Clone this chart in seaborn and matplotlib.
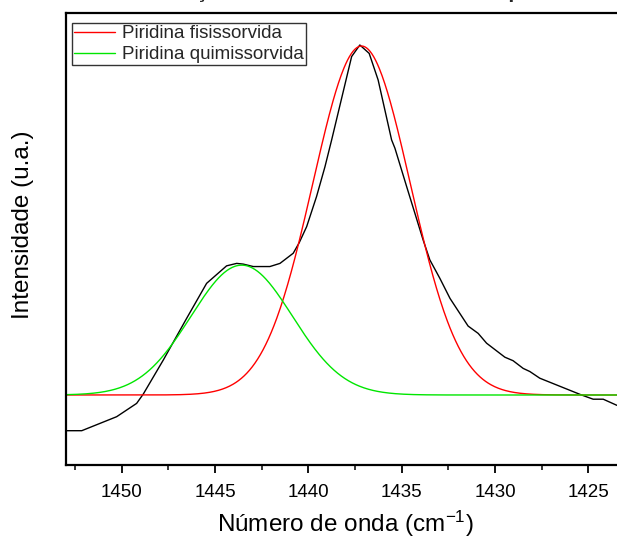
import numpy as np
import pandas as pd
import matplotlib
matplotlib.use("Agg")
import matplotlib.pyplot as plt
import seaborn as sns
from matplotlib.ticker import MultipleLocator

wavenumber = [1453.04, 1452.98, 1452.14, 1450.27, 1449.20, 1448.84, 1447.77, 1446.52,
              1445.45, 1444.38, 1443.84, 1443.49, 1442.95, 1442.06, 1441.52, 1440.81,
              1440.49, 1440.09, 1439.56, 1439.11, 1438.75, 1437.68, 1437.24, 1436.74,
              1436.26, 1435.54, 1435.36, 1434.73, 1433.85, 1433.49, 1432.95, 1432.41,
              1431.44, 1430.90, 1430.45, 1429.47, 1429.03, 1428.49, 1428.13, 1427.60,
              1425.36, 1424.74, 1424.20, 1423.49, 1422.90]
intensity = [-0.109, -0.102, -0.102, -0.062, -0.024, 0.003, 0.100, 0.219,
             0.319, 0.369, 0.376, 0.374, 0.367, 0.367, 0.376, 0.405,
             0.435, 0.481, 0.567, 0.652, 0.729, 0.967, 1.000, 0.976,
             0.900, 0.729, 0.705, 0.595, 0.443, 0.386, 0.333, 0.276,
             0.197, 0.176, 0.148, 0.108, 0.098, 0.076, 0.067, 0.048,
             0.000, -0.012, -0.012, -0.029, -0.040]

# Fitted Gaussian components
component_names = ["Piridina fisissorvida", "Piridina quimissorvida"]
component_centers = [1437.15, 1443.57]
component_heights = [0.997, 0.371]
component_sigmas = [2.61, 2.72]
component_colors = ["#ff0000", "#00e600"]

xgrid = np.linspace(1454, 1420, 700)
rows = []
for name, c, h, s in zip(component_names, component_centers, component_heights, component_sigmas):
    for xv in xgrid:
        rows.append({"x": xv, "y": h * np.exp(-(xv - c) ** 2 / (2 * s ** 2)), "comp": name})
comp_df = pd.DataFrame(rows)
exp_df = pd.DataFrame({"x": wavenumber, "y": intensity})

sns.set_theme(style="white")
plt.rcParams["font.family"] = ["Liberation Sans", "DejaVu Sans"]
plt.rcParams["mathtext.fontset"] = "custom"
plt.rcParams["mathtext.rm"] = "Liberation Sans"
plt.rcParams["mathtext.it"] = "Liberation Sans"

fig = plt.figure(figsize=(6.17, 5.39), dpi=100)
W, H = 617, 539
ax_left, ax_right, ax_top, ax_bot = 65.7, 640, 13, 465
ax = fig.add_axes([ax_left / W, (H - ax_bot) / H, (ax_right - ax_left) / W, (ax_bot - ax_top) / H])

sns.lineplot(data=exp_df, x="x", y="y", color="black", lw=1.0, ax=ax, sort=False,
             estimator=None, legend=False)
sns.lineplot(data=comp_df, x="x", y="y", hue="comp", hue_order=component_names,
             palette=component_colors, lw=1.0, ax=ax, sort=False, estimator=None)

ax.set_xlim(1453.0, 1422.23)
ax.set_ylim(-0.2, 1.0914)

ax.xaxis.set_major_locator(MultipleLocator(5))
ax.xaxis.set_minor_locator(MultipleLocator(2.5))
ax.tick_params(axis="x", which="major", direction="out", length=6, width=1.3,
               labelsize=13.5, pad=8, bottom=True, colors="black")
ax.tick_params(axis="x", which="minor", direction="out", length=3.5, width=1.3, bottom=True)
ax.set_yticks([])
for side in ["left", "bottom", "top", "right"]:
    ax.spines[side].set_linewidth(1.6)
    ax.spines[side].set_color("black")

ax.set_xlabel("Número de onda (cm$^{-1}$)", fontsize=17.5, color="black")
ax.set_ylabel("Intensidade (u.a.)", fontsize=17.5, color="black")
ax.xaxis.set_label_coords((345 - ax_left) / (ax_right - ax_left), (ax_bot - 509) / (ax_bot - ax_top))
ax.yaxis.set_label_coords((34 - ax_left) / (ax_right - ax_left), (ax_bot - 225) / (ax_bot - ax_top))

leg = ax.legend(loc="upper left", bbox_to_anchor=((71.7 - ax_left) / (ax_right - ax_left), (ax_bot - 23.3) / (ax_bot - ax_top)),
                borderaxespad=0, fontsize=13.5, frameon=True, fancybox=False, shadow=False,
                borderpad=0.1, labelspacing=0.2, handlelength=2.2, handletextpad=0.4, title=None)
leg.get_frame().set_edgecolor("black")
leg.get_frame().set_linewidth(1.0)
for line in leg.get_lines():
    line.set_linewidth(1.0)

# Title: only its lowest part shows at the top edge in the reference
fig.text(0.545, 1.003, "Deconvolução da banda em 1440 cm-1 da piridina", fontsize=15,
         fontweight="bold", ha="center", va="baseline")

fig.savefig("out.png", dpi=100)
